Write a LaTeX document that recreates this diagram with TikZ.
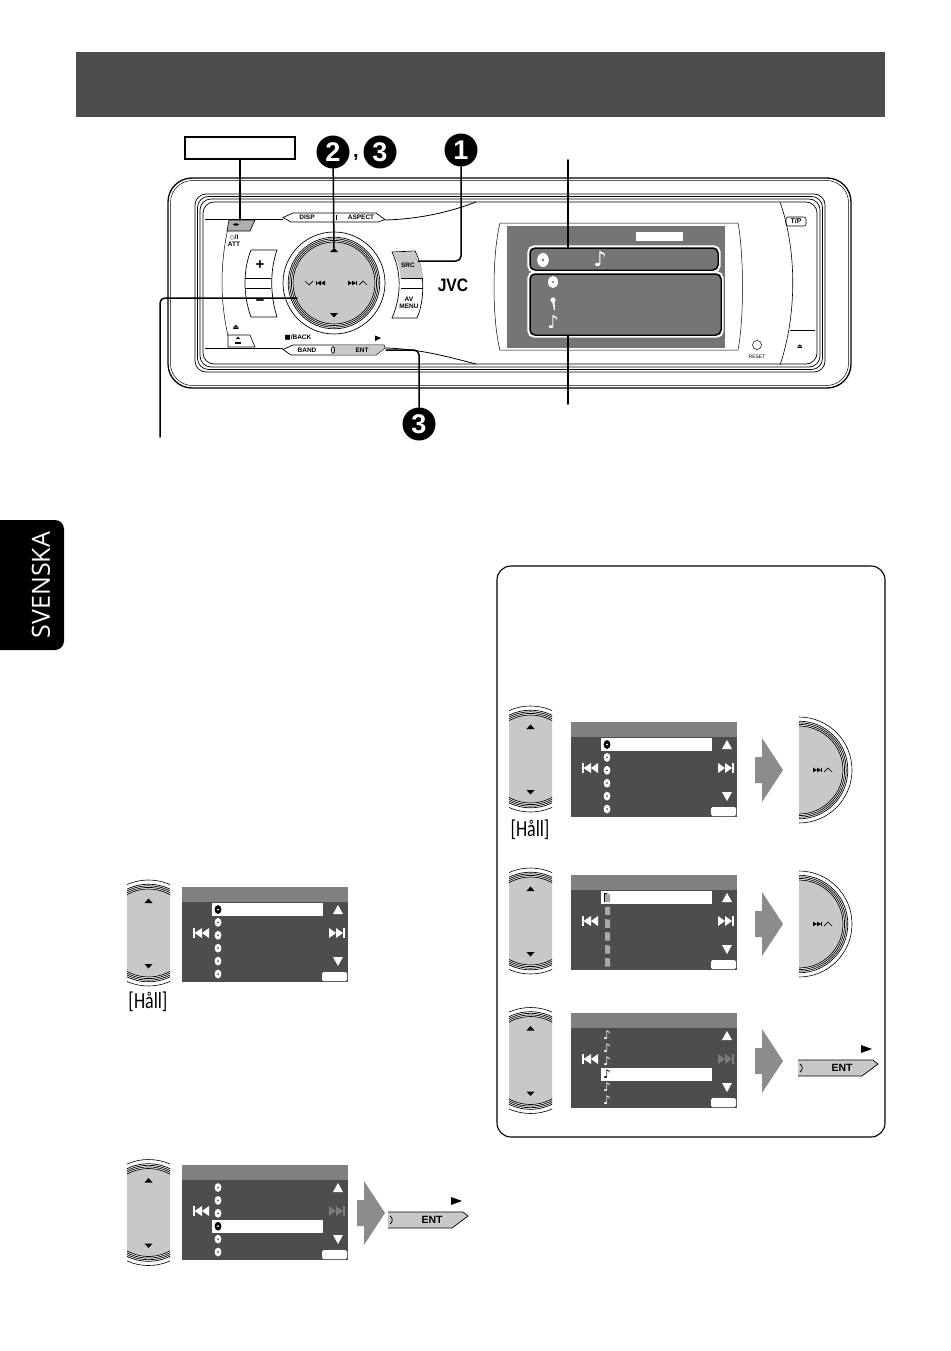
\documentclass[tikz,border=0pt]{standalone}
\usepackage{fontspec}
\setmainfont{Liberation Sans}
\newfontfamily\symfont{DejaVu Sans}
\newfontfamily\tabfont{Open Sans}
\newfontfamily\holdfont{Carlito}
\definecolor{bandgray}{HTML}{4D4D4D}
\definecolor{headgray}{HTML}{808080}
\definecolor{knobgray}{HTML}{C8C8C8}
\definecolor{foldgray}{HTML}{A8A8A8}
\definecolor{lcdgray}{HTML}{757575}
\definecolor{arrowgray}{HTML}{8C8C8C}
\definecolor{dimgray}{HTML}{7A7A7A}

\tikzset{
	leader/.style={line width=1.5pt, line cap=round},
	frameline/.style={line width=0.7pt},
	badge/.style={circle, fill=black, text=white, inner sep=0pt, minimum size=33pt, font=\bfseries\fontsize{27}{27}\selectfont},
	btntext/.style={inner sep=0pt, font=\bfseries\fontsize{6.5}{7}\selectfont},
	lcdbox/.style={draw=white, line width=3.2pt, rounded corners=5pt, double=none},
	bigarrow/.style={fill=arrowgray},
	holdtext/.style={inner sep=0pt, xscale=0.78, font=\holdfont\fontsize{23}{23}\selectfont},
	pics/stripdial/.style={code={
		\begin{scope}
			\clip (-21.5,-60) rectangle (21.5,60);
			\fill[knobgray] (0,0) circle (44);
			\foreach \r in {44,45.6,47.2,48.8} \draw[line width=0.7pt] (0,0) circle (\r);
			\draw[line width=0.6pt] (0,0) circle (53);
		\end{scope}
		\fill (-4,-30) -- (4,-30) -- (0,-34.5) -- cycle;
		\fill (-4,31) -- (4,31) -- (0,35.5) -- cycle;
	}},
	pics/halfdial/.style={code={
		\begin{scope}
			\clip (0,-60) rectangle (60,60);
			\fill[knobgray] (0,0) circle (44);
			\foreach \r in {44,45.6,47.2,48.8} \draw[line width=0.7pt] (0,0) circle (\r);
			\draw[line width=0.6pt] (0,0) circle (53);
		\end{scope}
		\pic at (24,0) {nextmark};
	}},
	pics/nextmark/.style={code={
		\fill (-10,-2.3) -- (-6,0) -- (-10,2.3) -- cycle;
		\fill (-6,-2.3) -- (-2,0) -- (-6,2.3) -- cycle;
		\fill (-2,-2.3) rectangle (-0.8,2.3);
		\draw[line width=0.7pt] (1,2) -- (5,-2) -- (9,2);
	}},
	pics/prevmark/.style={code={
		\draw[line width=0.7pt] (-9,-2) -- (-5,2) -- (-1,-2);
		\fill (1.8,-2.3) rectangle (3,2.3);
		\fill (7,-2.3) -- (3,0) -- (7,2.3) -- cycle;
		\fill (11,-2.3) -- (7,0) -- (11,2.3) -- cycle;
	}},
}

% row icons, \ic \ib \ie hold the colours
\newcommand{\discicon}{\fill[\ic] (0,0) ellipse (3.4 and 4.4); \fill[\ib] (0,0) circle (1);}
\newcommand{\foldicon}{\fill[foldgray] (-3,-4.5) -- (3,-3.5) -- (3,4.5) -- (-3,4.5) -- cycle; \draw[\ie, line width=0.4pt] (-3.3,4.5) -- (-3.3,-4.7) -- (0,-4.7);}
\newcommand{\noteicon}{\node[inner sep=0pt, text=\ic, font=\symfont\fontsize{12}{12}\selectfont] {♪};}

% name, x, y, row icon, marked row, colour of the skip mark
\newcommand{\menuscreen}[6]{
	\begin{scope}[shift={(#2,#3)}]
		\fill[bandgray] (0,0) rectangle (166,95);
		\fill[headgray] (0,0) rectangle (166,15);
		\fill[white] (30,{16+12.9*(#5-1)}) rectangle (141,{29+12.9*(#5-1)});
		\foreach \r in {1,...,6} {
			\pgfmathsetmacro{\ry}{22.5+12.9*(\r-1)}
			\ifnum\r=#5 \def\ic{black}\def\ib{white}\def\ie{black}\else \def\ic{white}\def\ib{bandgray}\def\ie{bandgray}\fi
			\begin{scope}[shift={(36,\ry)}] #4 \end{scope}
		}
		\fill[white] (11,41) rectangle (12.5,51);
		\fill[white] (20,41) -- (12.5,46) -- (20,51) -- cycle;
		\fill[white] (27,41) -- (20,46) -- (27,51) -- cycle;
		\fill[#6] (147,41) -- (154,46) -- (147,51) -- cycle;
		\fill[#6] (154,41) -- (161,46) -- (154,51) -- cycle;
		\fill[#6] (161,41) rectangle (162.5,51);
		\fill[white] (151,27) -- (161,27) -- (156,18) -- cycle;
		\fill[white] (151,70) -- (161,70) -- (156,79) -- cycle;
		\node[fill=white, rounded corners=1.5pt, minimum width=25pt, minimum height=9pt, inner sep=0pt] (#1ok) at (152.5,89.5) {};
	\end{scope}
}
\newcommand{\bigarrowat}[2]{\fill[bigarrow] (#1-28,#2-13) -- (#1-21,#2-13) -- (#1-21,#2-32) -- (#1,#2) -- (#1-21,#2+32) -- (#1-21,#2+13) -- (#1-28,#2+13) -- cycle;}
\newcommand{\entbutton}[3]{
	\begin{scope}[shift={(#2,#3)}]
		\fill[knobgray] (0,0) -- (75,0) -- (80,4) -- (64,16) -- (0,16) -- cycle;
		\draw[line width=0.7pt] (0,0) -- (75,0) -- (80,4) -- (64,16) -- (0,16);
		\draw[line width=0.8pt] (2,4) .. controls (5,6) and (5,10) .. (2,12);
		\node[inner sep=0pt, font=\bfseries\fontsize{10.5}{11}\selectfont] (#1) at (44,8) {ENT};
		\fill (63,-15) -- (74,-11) -- (63,-7) -- cycle;
	\end{scope}
}

\begin{document}
\begin{tikzpicture}[x=1pt, y=-1pt]
	\useasboundingbox (0,0) rectangle (950,1351);

	% page furniture
	\fill[bandgray] (76,52) rectangle (885,117);
	\fill[black, rounded corners=9pt] (-20,520) rectangle (64,650);
	\node[rotate=90, text=white, inner sep=0pt, font=\tabfont\fontsize{25}{25}\selectfont] (tab) at (41,585) {SVENSKA};

	% faceplate
	\draw[line width=1.3pt, rounded corners=24pt] (168,178) rectangle (851,388);
	\draw[line width=0.5pt, rounded corners=22pt] (170.5,180.5) rectangle (848.5,385.5);
	\foreach \d in {0,2.5,5,8} \draw[frameline, rounded corners=11pt] (195+\d,194+\d) rectangle (825-\d,372-\d);
	\draw[line width=0.8pt] (205,219) -- (283,219);
	\draw[line width=0.8pt] (385,220) .. controls (420,219) and (450,212) .. (476,202);
	\draw[line width=0.8pt] (205,348) -- (283,348);
	\draw[line width=0.8pt] (385,348) .. controls (420,349) and (445,356) .. (476,364);
	\draw[line width=0.5pt] (228,228) .. controls (220,265) and (220,300) .. (228,336);
	\draw[line width=0.6pt] (780,202) .. controls (797,250) and (797,315) .. (780,365);
	\draw[line width=0.6pt] (790,330) -- (815,330);

	% buttons on the left
	\filldraw[fill=arrowgray!70, line width=0.6pt] (229,220) -- (255,220) -- (250,231) -- (227,231) -- cycle;
	\fill (236,224.5) ellipse (3 and 1.2);
	\node[btntext, align=center] (attlabel) at (234,241) {{\symfont ◇}/I\\ATT};
	\filldraw[fill=white, line width=0.6pt] (228,335) -- (250,335) -- (255,347) -- (228,347) -- cycle;
	\fill (236,339) -- (240,339) -- (238,336.5) -- cycle;
	\fill (235,342) rectangle (241,343.5);
	\node[btntext, font=\symfont\fontsize{7}{7}\selectfont] (ejectlabel) at (236,327) {⏏};

	\filldraw[fill=white, line width=0.7pt] (283,217.5) -- (293,213) -- (376,213) -- (385,219.5) -- (378,222) -- (291,222) -- cycle;
	\node[btntext] (disp) at (307,217.5) {DISP};
	\node[btntext] (aspect) at (361,217.5) {ASPECT};
	\draw[line width=0.5pt] (336,215) -- (336,220);

	\filldraw[fill=white, line width=0.7pt] (283,349.5) -- (293,345) -- (384,345) -- (385,348) -- (376,355) -- (291,355) -- cycle;
	\fill[knobgray] (333,345.4) -- (384,345.4) -- (384.5,348) -- (376,354.6) -- (333,354.6) -- cycle;
	\node[btntext] (band) at (307,350) {BAND};
	\node[btntext] (ent) at (362,350) {ENT};
	\draw[line width=0.7pt] (333,350) ellipse (1.6 and 3.4);
	\node[btntext] (back) at (298,338) {{\symfont ■}/BACK};
	\fill (375,335.5) -- (381,338) -- (375,341) -- cycle;

	\filldraw[fill=white, line width=0.7pt] (251,250) -- (277,250) .. controls (270,270) and (270,295) .. (277,317) -- (251,317) .. controls (243,295) and (243,270) .. (251,250);
	\draw[line width=0.5pt] (245,278) -- (271,278);
	\draw[line width=0.5pt] (245,288) -- (271,288);
	\node[inner sep=0pt, font=\bfseries\fontsize{15}{15}\selectfont] (plus) at (260,265) {+};
	\node[inner sep=0pt, font=\bfseries\fontsize{15}{15}\selectfont] (minus) at (260,303) {−};

	% main dial
	\filldraw[fill=white, line width=0.7pt] (334,283) circle (51);
	\fill[knobgray] (334,283) circle (41);
	\foreach \r in {41,42.6,44.2,45.8} \draw[line width=0.7pt] (334,283) circle (\r);
	\fill (330,252) -- (338,252) -- (334,248) -- cycle;
	\fill (330,313) -- (338,313) -- (334,317.5) -- cycle;
	\pic at (314,283) {prevmark};
	\pic at (358,283) {nextmark};

	% source button
	\filldraw[fill=white, line width=0.7pt] (392,252) -- (415,251) .. controls (425,270) and (425,300) .. (417,318) -- (392,318) .. controls (400,300) and (403,275) .. (392,252);
	\fill[knobgray] (393,252.6) -- (414.5,251.6) .. controls (420,262) and (422.5,270) .. (423,278) -- (400.5,278) .. controls (400,268) and (397,260) .. (393,252.6);
	\draw[line width=0.5pt] (400.5,278) -- (423,278);
	\draw[line width=0.5pt] (401,288) -- (423,288);
	\node[btntext] (src) at (408,265) {SRC};
	\node[btntext, align=center] (avmenu) at (409,303) {AV\\MENU};
	\node[inner sep=0pt, xscale=0.87, font=\bfseries\fontsize{18}{18}\selectfont] (jvc) at (453,285) {JVC};

	% display
	\draw[line width=0.5pt] (500,223) -- (738,223) .. controls (744,255) and (744,320) .. (738,350) -- (500,350) .. controls (492,320) and (492,255) .. (500,223);
	\fill[lcdgray] (507,226) rectangle (725,348);
	\fill[white] (636,232) rectangle (683,241);
	\draw[lcdbox] (529,247) rectangle (719,271);
	\draw[lcdbox] (529,273) rectangle (722,336);
	\draw[line width=1.5pt, rounded corners=5pt] (530,248) rectangle (718,270);
	\draw[line width=1.5pt, rounded corners=5pt] (530,274) rectangle (721,335);
	\coordinate (topbox) at (568,248);
	\coordinate (lowbox) at (568,335);
	\fill[white] (543,260) ellipse (5.8 and 7); \fill[lcdgray] (543,260) circle (1.3);
	\fill[white] (553,282) ellipse (5 and 6); \fill[lcdgray] (553,282) circle (1.1);
	\fill[white] (553,300) circle (2.6);
	\fill[white] (552,301) -- (554.5,301) -- (555,310) -- (554,310) -- cycle;
	\node[inner sep=0pt, text=white, font=\symfont\fontsize{21}{21}\selectfont] (noteone) at (600,259) {♪};
	\node[inner sep=0pt, text=white, font=\symfont\fontsize{18}{18}\selectfont] (notetwo) at (553,322) {♪};

	% right end of the faceplate
	\node[draw, rounded corners=2pt, inner sep=0pt, minimum width=20pt, minimum height=9pt, line width=0.6pt, font=\bfseries\fontsize{7}{7}\selectfont] (tp) at (796,221.5) {T/P};
	\node[draw, circle, inner sep=0pt, minimum size=9pt, line width=0.5pt] (reset) at (757,345) {};
	\node[btntext, font=\fontsize{5}{5}\selectfont] (resetlabel) at (757,357) {RESET};
	\node[btntext, font=\symfont\fontsize{6}{6}\selectfont] (openlabel) at (800,347) {⏏};

	% callouts
	\node[draw, line width=1.2pt, minimum width=110pt, minimum height=22pt, inner sep=0pt] (power) at (240,148) {};
	\node[badge] (stepb) at (333,152) {2};
	\node[inner sep=0pt, font=\bfseries\fontsize{20}{20}\selectfont] (comma) at (356,158) {,};
	\node[badge] (stepc) at (380,152) {3};
	\node[badge] (stepa) at (461,150) {1};
	\node[badge] (stepd) at (419,424) {3};
	\coordinate (pwrbtn) at (240,220);
	\coordinate (dialtop) at (334,248);
	\coordinate (srcbtn) at (418,261);
	\coordinate (entbtn) at (386,350);
	\coordinate (dialside) at (297,298);
	\coordinate (leftend) at (160,437);
	\coordinate (uptop) at (568,160);
	\coordinate (lowend) at (568,404);
	\draw[leader] (power) -- (pwrbtn);
	\draw[leader] (stepb) -- (dialtop);
	\draw[leader, rounded corners=5pt] (stepa) |- (srcbtn);
	\draw[leader, rounded corners=5pt] (entbtn) -| (stepd.north);
	\draw[leader, rounded corners=5pt] (leftend) |- (dialside);
	\draw[leader] (uptop) -- (topbox);
	\draw[leader] (lowbox) -- (lowend);

	% step screens on the left
	\pic at (148.5,933) {stripdial};
	\menuscreen{scra}{182}{887}{\discicon}{1}{white}
	\node[holdtext] (holda) at (148,1002) {[Håll]};
	\pic at (148.5,1212.5) {stripdial};
	\menuscreen{scrb}{182}{1165}{\discicon}{4}{dimgray}
	\bigarrowat{385}{1213}
	\entbutton{enta}{388}{1212}

	% box on the right
	\draw[line width=1.1pt, rounded corners=14pt] (497,566) rectangle (885,1137);
	\pic at (530.5,759) {stripdial};
	\menuscreen{scrc}{571}{722}{\discicon}{1}{white}
	\node[holdtext] (holdb) at (530,830) {[Håll]};
	\bigarrowat{783}{770}
	\pic at (799,770) {halfdial};
	\pic at (530.5,921) {stripdial};
	\menuscreen{scrd}{571}{875}{\foldicon}{1}{white}
	\bigarrowat{783}{924}
	\pic at (799,924) {halfdial};
	\pic at (530.5,1060.5) {stripdial};
	\menuscreen{scre}{571}{1013}{\noteicon}{4}{dimgray}
	\bigarrowat{783}{1061}
	\entbutton{entb}{798}{1060}
\end{tikzpicture}
\end{document}
